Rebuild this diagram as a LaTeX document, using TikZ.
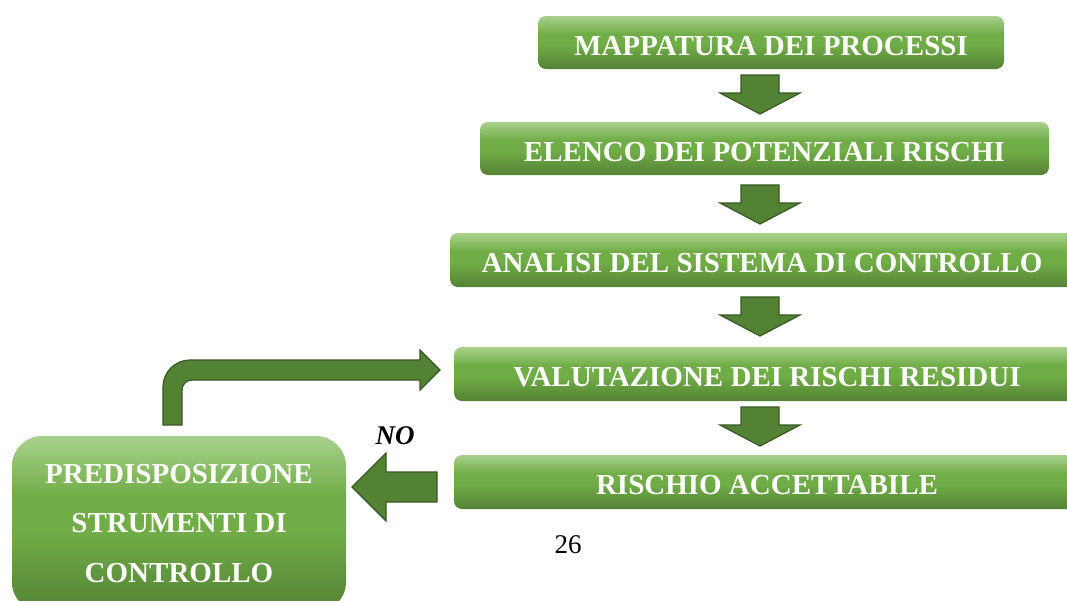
\documentclass[tikz,border=0pt]{standalone}
\usepackage{fontspec}
\setmainfont{Liberation Serif}
\usetikzlibrary{calc}
\definecolor{glight}{HTML}{A9D18E}
\definecolor{gmid}{HTML}{70AD47}
\definecolor{gdark}{HTML}{548235}
\definecolor{afill}{HTML}{548235}
\definecolor{aedge}{HTML}{385723}
\pgfdeclareverticalshading{greengrad}{100bp}{color(0bp)=(gdark); color(25bp)=(gdark); color(48bp)=(gmid); color(58bp)=(gmid); color(75bp)=(glight); color(100bp)=(glight)}
\tikzset{
  stepbox/.style={shading=greengrad, rounded corners=8pt, inner sep=0pt,
    text=white, font=\fontsize{29}{29}\selectfont\bfseries,
    text height=25pt, text depth=0pt},
  bigbox/.style={shading=greengrad, rounded corners=30pt, inner sep=0pt},
  blockarrow/.style={fill=afill, draw=aedge, line width=1.2pt, line join=miter},
  downarr/.pic={
    \path[blockarrow] (-19,0) -- (19,0) -- (19,18) -- (40,18) -- (0,39) -- (-40,18) -- (-19,18) -- cycle;
  }
}
\begin{document}
\begin{tikzpicture}[x=1pt,y=-1pt]
\useasboundingbox (0,0) rectangle (1067,600);
\fill[white] (0,0) rectangle (1067,600);
% boxes
\node[stepbox, minimum width=466pt, minimum height=53pt] (b1) at (771,42.5) {MAPPATURA DEI PROCESSI};
\node[stepbox, minimum width=569pt, minimum height=53pt] (b2) at (764.5,148.5) {ELENCO DEI POTENZIALI RISCHI};
\node[stepbox, minimum width=624pt, minimum height=54pt] (b3) at (762,260) {ANALISI DEL SISTEMA DI CONTROLLO};
\node[stepbox, minimum width=626pt, minimum height=54pt] (b4) at (767,374) {VALUTAZIONE DEI RISCHI RESIDUI};
\node[stepbox, minimum width=626pt, minimum height=54pt] (b5) at (767,482) {RISCHIO ACCETTABILE};
\node[bigbox, minimum width=334pt, minimum height=176pt] (p) at (179,524) {};
\node[text=white, font=\fontsize{29}{49.5}\selectfont\bfseries, align=center, inner sep=0pt, anchor=base] (pt) at (179,582) {PREDISPOSIZIONE\\STRUMENTI DI\\CONTROLLO};
% down arrows
\coordinate (a1) at (760,75);
\coordinate (a2) at (760,185);
\coordinate (a3) at (760,297);
\coordinate (a4) at (760,407);
\pic at (a1) {downarr};
\pic at (a2) {downarr};
\pic at (a3) {downarr};
\pic at (a4) {downarr};
% left arrow (NO)
\coordinate (lt) at (352,487);
\path[blockarrow] (lt) -- ++(34,-34) -- ++(0,19) -- (437,472) -- (437,502) -- (386,502) -- (386,521) -- cycle;
\node[font=\fontsize{27}{27}\selectfont\bfseries\itshape, inner sep=0pt] (no) at (395,436) {NO};
% bent arrow back to evaluation
\coordinate (bt) at (440,370);
\path[blockarrow] (163,425) -- (163,387) arc[start angle=180, end angle=270, radius=27] -- (420,360) -- (420,350) -- (bt) -- (420,390) -- (420,380) -- (192,380) arc[start angle=270, end angle=180, radius=10] -- (182,425) -- cycle;
% page number
\node[font=\fontsize{27}{27}\selectfont, inner sep=0pt] (pg) at (568,545) {26};
\end{tikzpicture}
\end{document}
